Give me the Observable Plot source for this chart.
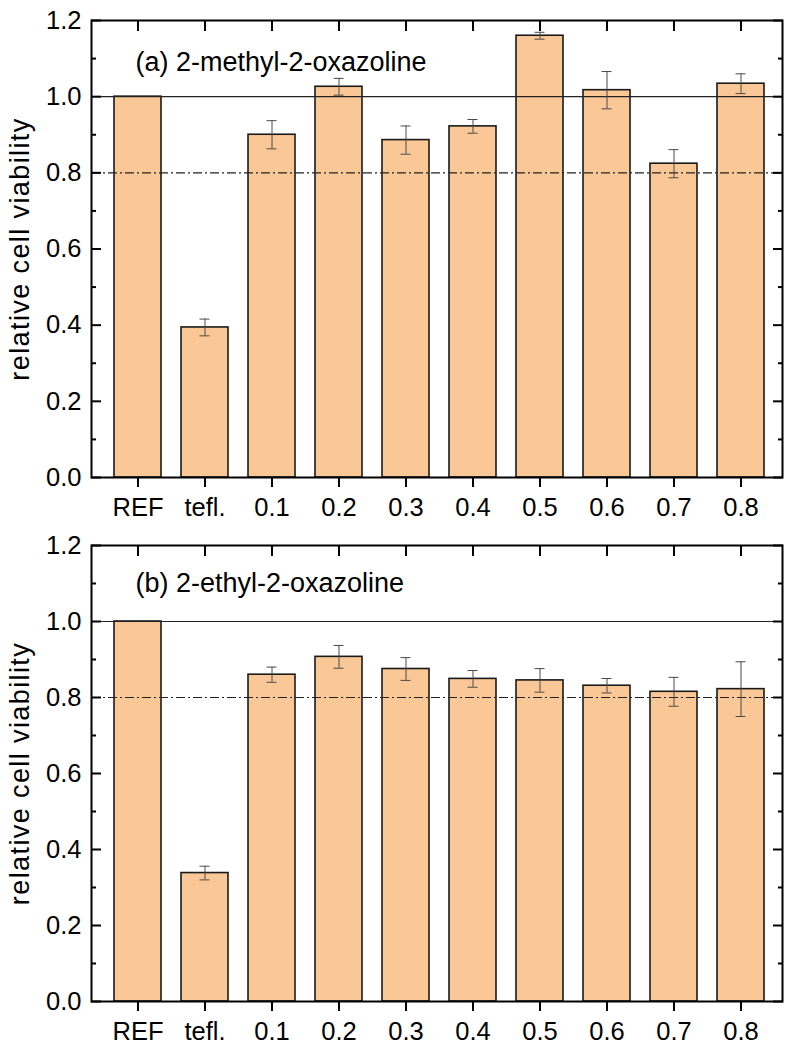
<!DOCTYPE html>
<html>
<head>
<meta charset="utf-8">
<script src="https://cdn.jsdelivr.net/npm/d3@7"></script>
<script src="https://cdn.jsdelivr.net/npm/@observablehq/plot@0.6"></script>
<style>
  html, body { margin: 0; padding: 0; background: white; }
  svg { display: block; }
</style>
</head>
<body>
<div id="chart"></div>
<script>
// ---- data ----
const categories = ["REF", "tefl.", "0.1", "0.2", "0.3", "0.4", "0.5", "0.6", "0.7", "0.8"];

const viabilityA = [1.000, 0.394, 0.900, 1.026, 0.886, 0.922, 1.160, 1.017, 0.824, 1.034];
const errorA     = [null,  0.022, 0.037, 0.022, 0.037, 0.018, 0.009, 0.049, 0.037, 0.026];

const viabilityB = [1.000, 0.338, 0.860, 0.907, 0.875, 0.849, 0.845, 0.831, 0.815, 0.822];
const errorB     = [null,  0.018, 0.020, 0.030, 0.030, 0.022, 0.031, 0.019, 0.038, 0.072];

const titleA = "(a) 2-methyl-2-oxazoline";
const titleB = "(b) 2-ethyl-2-oxazoline";
const yLabel = "relative cell viability";

const yMajorTicks = [0, 0.2, 0.4, 0.6, 0.8, 1.0, 1.2];
const yMinorTicks = [0.1, 0.3, 0.5, 0.7, 0.9, 1.1];
const referenceLevel = 1.0;
const thresholdLevel = 0.8;

// ---- chart ----
const FONT = "'Liberation Sans', Arial, Helvetica, sans-serif";
const BAR_FILL = "#F9C896";
const ERR_COLOR = "#4a4a4a";

function panel(values, errors, title, opts) {
  const data = categories.map((c, i) => ({cat: c, v: values[i], e: errors[i]}));
  const errData = data.filter(d => d.e != null);
  const svg = Plot.plot({
    width: 791,
    height: opts.height,
    marginLeft: 91,
    marginRight: 9,
    marginTop: opts.marginTop,
    marginBottom: opts.marginBottom,
    style: {fontFamily: FONT, fontSize: "25px", background: "white", color: "black", overflow: "visible"},
    x: {type: "band", domain: categories, paddingInner: 0.3, paddingOuter: 0.285, align: 0.56, label: null},
    y: {domain: [0, 1.2], label: null},
    marks: [
      Plot.barY(data, {x: "cat", y: "v", fill: BAR_FILL, stroke: "#1a1a1a", strokeWidth: 1.6}),
      Plot.ruleY([referenceLevel], {stroke: "#222", strokeWidth: 1.2}),
      Plot.ruleY([thresholdLevel], {stroke: "#222", strokeWidth: 1.2, strokeDasharray: "9,3,2,3"}),
      Plot.ruleX(errData, {x: "cat", y1: d => d.v - d.e, y2: d => d.v + d.e, stroke: ERR_COLOR, strokeWidth: 1}),
      Plot.tickY(errData, {x: "cat", y: d => d.v + d.e, stroke: ERR_COLOR, strokeWidth: 1, insetLeft: 18.5, insetRight: 18.5}),
      Plot.tickY(errData, {x: "cat", y: d => d.v - d.e, stroke: ERR_COLOR, strokeWidth: 1, insetLeft: 18.5, insetRight: 18.5}),
      // y axis labels
      Plot.axisY({anchor: "left", ticks: yMajorTicks, tickSize: 0, tickPadding: 10, tickFormat: d3.format(".1f"), label: null, fontSize: 25.5}),
      // inward ticks left & right
      Plot.axisY({anchor: "left", ticks: yMajorTicks, tickSize: 10, dx: 10, fill: "none", label: null, strokeWidth: 2}),
      Plot.axisY({anchor: "left", ticks: yMinorTicks, tickSize: 5, dx: 5, fill: "none", label: null, strokeWidth: 2}),
      Plot.axisY({anchor: "right", ticks: yMajorTicks, tickSize: 10, dx: -10, fill: "none", label: null, strokeWidth: 2}),
      Plot.axisY({anchor: "right", ticks: yMinorTicks, tickSize: 5, dx: -5, fill: "none", label: null, strokeWidth: 2}),
      // x axis
      Plot.axisX({anchor: "bottom", tickSize: 10, tickPadding: 10, label: null, strokeWidth: 2, fontSize: 25.5}),
      Plot.axisX({anchor: "top", tickSize: 10, dy: 10, fill: "none", label: null, strokeWidth: 2}),
      Plot.frame({stroke: "black", strokeWidth: 2}),
      Plot.text([title], {text: d => d, frameAnchor: "top-left", dx: 44, dy: opts.titleDy, textAnchor: "start", lineAnchor: "middle", fontSize: 27}),
      Plot.text([yLabel], {text: d => d, frameAnchor: "left", dx: -71, rotate: -90, textAnchor: "middle", lineAnchor: "middle", fontSize: 27})
    ]
  });
  d3.select(svg).selectAll("text").filter(function() { return this.textContent === yLabel; })
    .attr("letter-spacing", "1.4px");
  return svg;
}

const root = document.getElementById("chart");
root.appendChild(panel(viabilityA, errorA, titleA, {height: 520, marginTop: 20, marginBottom: 43, titleDy: 42}));
root.appendChild(panel(viabilityB, errorB, titleB, {height: 530, marginTop: 25, marginBottom: 49, titleDy: 38}));
</script>
</body>
</html>
